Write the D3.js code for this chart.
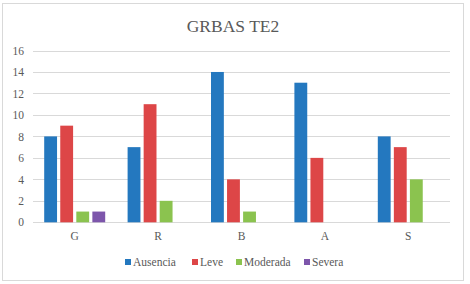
<!DOCTYPE html>
<html><head><meta charset="utf-8">
<script src="https://cdn.jsdelivr.net/npm/d3@7"></script>
<style>body{margin:0;background:#fff;}svg text{font-family:"Liberation Serif","DejaVu Serif",serif !important;}</style>
</head><body>
<svg id="c" width="470" height="284"></svg>
<script>
const title = "GRBAS TE2";
const categories = ["G", "R", "B", "A", "S"];
const seriesNames = ["Ausencia", "Leve", "Moderada", "Severa"];
const ausencia = [8, 7, 14, 13, 8];
const leve = [9, 11, 4, 6, 7];
const moderada = [1, 2, 1, 0, 4];
const severa = [1, 0, 0, 0, 0];
const yTicks = [0, 2, 4, 6, 8, 10, 12, 14, 16];
const colors = ["#2478bf", "#dd4647", "#8bc34f", "#7d56ab"];

const series = [ausencia, leve, moderada, severa];
const svg = d3.select("#c");
svg.append("rect").attr("x", 2.5).attr("y", 3.5).attr("width", 461).attr("height", 277)
  .attr("fill", "#fff").attr("stroke", "#d9d9d9");

const x = d3.scaleBand().domain(categories).range([33, 450]).paddingInner(0).paddingOuter(0);
const y = d3.scaleLinear().domain([0, 16]).range([222.3, 50.5]);
const xs = d3.scaleBand().domain(seriesNames).range([0, 61]).paddingInner(0.2).paddingOuter(0);
const groupOffset = (x.bandwidth() - 61) / 2;

svg.append("g").selectAll("line").data(yTicks).join("line")
  .attr("x1", 33).attr("x2", 450)
  .attr("y1", d => Math.round(y(d)) + 0.5).attr("y2", d => Math.round(y(d)) + 0.5)
  .attr("stroke", "#d9d9d9").attr("stroke-width", 1);

const yAxis = d3.axisLeft(y).tickValues(yTicks).tickSize(0).tickPadding(0);
const ya = svg.append("g").attr("transform", "translate(24,0)").call(yAxis).attr("font-family", null);
ya.select(".domain").remove();
ya.selectAll("text").attr("font-size", 11.5).attr("fill", "#595959");

const xAxis = d3.axisBottom(x).tickSize(0).tickPadding(0);
const xa = svg.append("g").attr("transform", "translate(0,232)").call(xAxis).attr("font-family", null);
xa.select(".domain").remove();
xa.selectAll("text").attr("font-size", 11.5).attr("fill", "#595959");

series.forEach((vals, si) => {
  svg.append("g").selectAll("rect").data(vals).join("rect")
    .attr("x", (d, i) => x(categories[i]) + groupOffset + xs(seriesNames[si]))
    .attr("width", xs.bandwidth())
    .attr("y", d => y(d))
    .attr("height", d => y(0) - y(d))
    .attr("fill", colors[si]);
});

svg.append("text").attr("x", 233).attr("y", 32).attr("text-anchor", "middle")
  .attr("font-size", 17.5).attr("fill", "#595959").text(title);

const legX = [125, 192, 236, 304];
const leg = svg.append("g");
seriesNames.forEach((n, i) => {
  leg.append("rect").attr("x", legX[i]).attr("y", 259).attr("width", 6).attr("height", 6).attr("fill", colors[i]);
  leg.append("text").attr("x", legX[i] + 8).attr("y", 266).attr("font-size", 11.5).attr("fill", "#595959").text(n);
});
</script>
</body></html>
